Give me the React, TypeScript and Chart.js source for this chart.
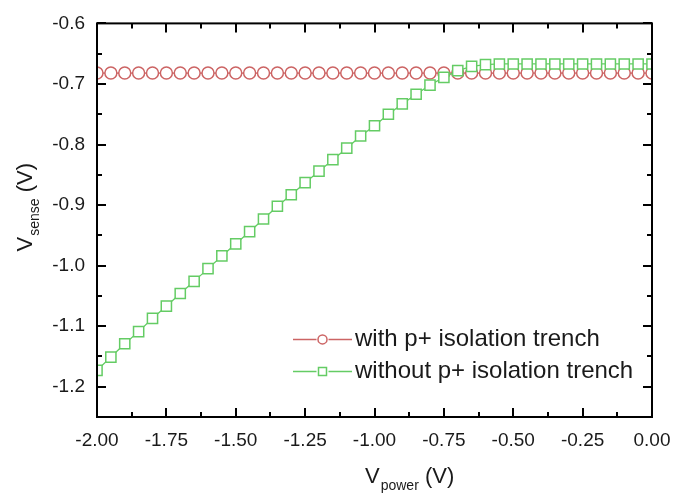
import React, { useEffect, useRef } from 'react';
import { Chart, registerables } from 'chart.js';

Chart.register(...registerables);

const vPower = [
  -2.0, -1.95, -1.9, -1.85, -1.8, -1.75, -1.7, -1.65, -1.6, -1.55,
  -1.5, -1.45, -1.4, -1.35, -1.3, -1.25, -1.2, -1.15, -1.1, -1.05,
  -1.0, -0.95, -0.9, -0.85, -0.8, -0.75, -0.7, -0.65, -0.6, -0.55,
  -0.5, -0.45, -0.4, -0.35, -0.3, -0.25, -0.2, -0.15, -0.1, -0.05, 0.0,
];

const withTrench = [
  -0.682, -0.682, -0.682, -0.682, -0.682, -0.682, -0.682, -0.682, -0.682, -0.682,
  -0.682, -0.682, -0.682, -0.682, -0.682, -0.682, -0.682, -0.682, -0.682, -0.682,
  -0.682, -0.682, -0.682, -0.682, -0.682, -0.682, -0.682, -0.682, -0.682, -0.682,
  -0.682, -0.682, -0.682, -0.682, -0.682, -0.682, -0.682, -0.682, -0.682, -0.682, -0.682,
];

const withoutTrench = [
  -1.173, -1.151, -1.129, -1.109, -1.087, -1.067, -1.046, -1.026, -1.005, -0.984,
  -0.964, -0.944, -0.923, -0.902, -0.883, -0.863, -0.844, -0.825, -0.806, -0.786,
  -0.769, -0.75, -0.733, -0.717, -0.702, -0.689, -0.678, -0.671, -0.668, -0.667,
  -0.667, -0.667, -0.667, -0.667, -0.667, -0.667, -0.667, -0.667, -0.667, -0.667, -0.667,
];

const seriesLabels = ['with p+ isolation trench', 'without p+ isolation trench'];
const seriesColors = ['#cc6464', '#64cc64'];
const seriesPoints = ['circle', 'rect'];

const FONT = 'Arial, "Liberation Sans", sans-serif';

const frameTicksPlugin = {
  id: 'frameTicks',
  afterDatasetsDraw(chart: any) {
    const { ctx, chartArea: ca } = chart;
    const xs = chart.scales.x;
    const ys = chart.scales.y;
    ctx.save();
    ctx.strokeStyle = '#000';
    ctx.lineWidth = 2;
    ctx.beginPath();
    ys.ticks.forEach((t: any) => {
      const v = t.value;
      const major = Math.abs(Math.round(v * 20)) % 2 === 0;
      const len = major ? 9 : 5;
      const py = Math.round(ys.getPixelForValue(v));
      ctx.moveTo(ca.left, py);
      ctx.lineTo(ca.left + len, py);
      ctx.moveTo(ca.right, py);
      ctx.lineTo(ca.right - len, py);
    });
    const xt = xs.ticks.map((t: any) => t.value);
    xt.forEach((v: number, i: number) => {
      const px = Math.round(xs.getPixelForValue(v));
      ctx.moveTo(px, ca.bottom);
      ctx.lineTo(px, ca.bottom - 9);
      ctx.moveTo(px, ca.top);
      ctx.lineTo(px, ca.top + 9);
      if (i < xt.length - 1) {
        const m = Math.round(xs.getPixelForValue((v + xt[i + 1]) / 2));
        ctx.moveTo(m, ca.bottom);
        ctx.lineTo(m, ca.bottom - 5);
        ctx.moveTo(m, ca.top);
        ctx.lineTo(m, ca.top + 5);
      }
    });
    ctx.stroke();
    ctx.strokeRect(ca.left, ca.top, ca.right - ca.left, ca.bottom - ca.top);
    ctx.restore();
  },
};

const titlesLegendPlugin = {
  id: 'titlesLegend',
  afterDraw(chart: any) {
    const { ctx, chartArea: ca } = chart;
    ctx.save();
    ctx.fillStyle = '#1a1a1a';
    ctx.textBaseline = 'alphabetic';
    ctx.textAlign = 'left';

    // X axis title: V_power (V)
    let x = ca.left + 268;
    const yb = ca.bottom + 66;
    ctx.font = `22px ${FONT}`;
    ctx.fillText('V', x, yb);
    x += ctx.measureText('V').width + 1;
    ctx.font = `14px ${FONT}`;
    ctx.fillText('power', x, yb + 7);
    x += ctx.measureText('power').width;
    ctx.font = `22px ${FONT}`;
    ctx.fillText(' (V)', x, yb);

    // Y axis title: V_sense (V)
    ctx.save();
    ctx.translate(32, ca.top + 228);
    ctx.rotate(-Math.PI / 2);
    let tx = 0;
    ctx.font = `22px ${FONT}`;
    ctx.fillText('V', tx, 0);
    tx += ctx.measureText('V').width + 1;
    ctx.font = `14px ${FONT}`;
    ctx.fillText('sense', tx, 7);
    tx += ctx.measureText('sense').width;
    ctx.font = `22px ${FONT}`;
    ctx.fillText(' (V)', tx, 0);
    ctx.restore();

    // Legend
    const rowY = [ca.top + 316, ca.top + 348];
    const lx0 = ca.left + 196;
    const lx1 = ca.left + 255;
    const tx0 = ca.left + 258;
    seriesLabels.forEach((label, i) => {
      const y = rowY[i];
      const c = seriesColors[i];
      const mid = (lx0 + lx1) / 2;
      ctx.strokeStyle = c;
      ctx.lineWidth = 1.5;
      ctx.beginPath();
      ctx.moveTo(lx0, y);
      ctx.lineTo(mid - 6, y);
      ctx.moveTo(mid + 6, y);
      ctx.lineTo(lx1, y);
      ctx.stroke();
      ctx.beginPath();
      if (seriesPoints[i] === 'circle') {
        ctx.arc(mid, y, 4.5, 0, Math.PI * 2);
      } else {
        ctx.rect(mid - 4, y - 4, 8, 8);
      }
      ctx.stroke();
      ctx.fillStyle = '#1a1a1a';
      ctx.font = `24px ${FONT}`;
      ctx.textBaseline = 'middle';
      ctx.fillText(label, tx0, y);
    });
    ctx.restore();
  },
};

export default function App() {
  const canvasRef = useRef<HTMLCanvasElement | null>(null);

  useEffect(() => {
    if (!canvasRef.current) return;
    const datasets = [withTrench, withoutTrench].map((vals, i) => ({
      label: seriesLabels[i],
      data: vals.map((v, j) => ({ x: vPower[j], y: v })),
      order: i === 0 ? 1 : 0,
      borderColor: seriesColors[i],
      backgroundColor: '#ffffff',
      borderWidth: 1.3,
      pointStyle: seriesPoints[i],
      pointRadius: seriesPoints[i] === 'circle' ? 6 : 7.2,
      pointBorderWidth: 1.5,
      pointBorderColor: seriesColors[i],
      pointBackgroundColor: '#ffffff',
      tension: 0,
    }));

    const chart = new Chart(canvasRef.current, {
      type: 'line',
      data: { datasets },
      plugins: [frameTicksPlugin, titlesLegendPlugin],
      options: {
        animation: false,
        responsive: true,
        maintainAspectRatio: false,
        layout: { padding: { left: 0, right: 31, top: 19, bottom: 0 } },
        plugins: {
          legend: { display: false },
          tooltip: { enabled: false },
          title: { display: false },
        },
        scales: {
          x: {
            type: 'linear',
            min: -2,
            max: 0,
            grid: { display: false, drawTicks: false },
            border: { display: false },
            ticks: {
              stepSize: 0.25,
              autoSkip: false,
              maxRotation: 0,
              padding: 12,
              color: '#1a1a1a',
              font: { family: FONT, size: 19 },
              callback: (v: any) => {
                const r = Math.round(Number(v) * 100) / 100;
                return (r === 0 ? 0 : r).toFixed(2);
              },
            },
            afterFit: (s: any) => {
              s.height = 76;
            },
          },
          y: {
            type: 'linear',
            min: -1.25,
            max: -0.6,
            grid: { display: false, drawTicks: false },
            border: { display: false },
            ticks: {
              stepSize: 0.05,
              autoSkip: false,
              padding: 12,
              color: '#1a1a1a',
              font: { family: FONT, size: 19 },
              callback: (v: any) => {
                const n = Number(v);
                const k = Math.round(n * 20);
                if (Math.abs(k) % 2 !== 0) return '';
                return (k / 20).toFixed(1);
              },
            },
            afterFit: (s: any) => {
              s.width = 97;
            },
          },
        },
      },
    });
    return () => chart.destroy();
  }, []);

  return (
    <div style={{ position: 'absolute', left: 0, top: 0, width: 683, height: 493, background: '#fff' }}>
      <canvas ref={canvasRef} />
    </div>
  );
}
